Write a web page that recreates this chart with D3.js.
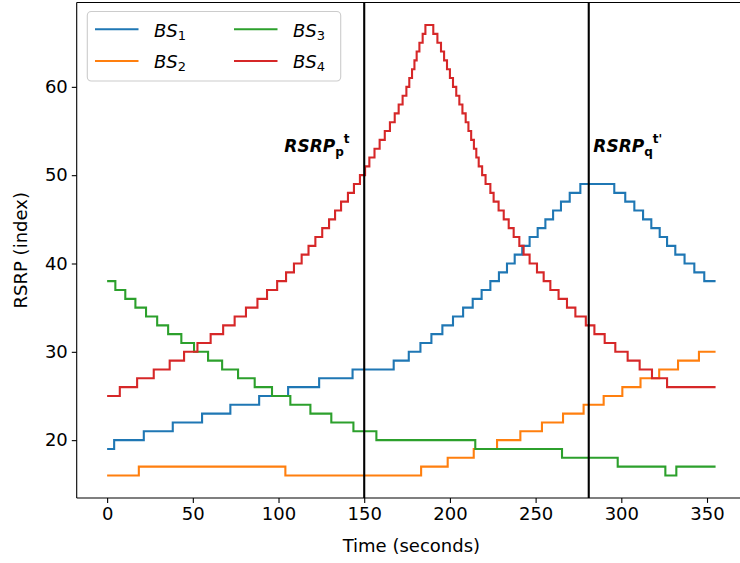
<!DOCTYPE html>
<html>
<head>
<title>rsrp_steps_d3</title>
<script src="https://d3js.org/d3.v7.min.js"></script>
<style>
  body { margin: 0; background: #fff; }
  text { font-family: "DejaVu Sans", sans-serif; }
</style>
</head>
<body>
<svg id="container" width="740" height="563"></svg>
<script>
// step change points: time (s) where each level begins
const tEnd = 355
const bs1Times = [0, 4.1, 21.4, 38.3, 55.4, 71.9, 88.7, 105.6, 123.7, 143.2, 167.2, 176, 182.8, 189.2, 195.6, 201.8, 207.7, 213.3, 218.5, 223.6, 228.6, 233.3, 237.8, 242.2, 246.5, 251.2, 255.7, 260.2, 264.8, 269.9, 276.1, 295.9, 302.3, 307.6, 312.7, 317.5, 322.4, 326.7, 331.5, 336.9, 342.6, 348.4]
const bs1Values = [19, 20, 21, 22, 23, 24, 25, 26, 27, 28, 29, 30, 31, 32, 33, 34, 35, 36, 37, 38, 39, 40, 41, 42, 43, 44, 45, 46, 47, 48, 49, 48, 47, 46, 45, 44, 43, 42, 41, 40, 39, 38]

const bs2Times = [0, 18.5, 104, 183.2, 198.7, 213.9, 227.5, 241.1, 253.7, 266, 278, 289.7, 300.6, 311.2, 322.1, 333.1, 345.3]
const bs2Values = [16, 17, 16, 17, 18, 19, 20, 21, 22, 23, 24, 25, 26, 27, 28, 29, 30]

const bs3Times = [0, 4.8, 10.6, 16.5, 22.7, 29.2, 35.6, 43.3, 50.7, 58.9, 67.1, 76.4, 86.1, 96.2, 106.9, 118.6, 130.8, 143.7, 157.1, 214.8, 265.4, 297.9, 325.7, 332.1]
const bs3Values = [38, 37, 36, 35, 34, 33, 32, 31, 30, 29, 28, 27, 26, 25, 24, 23, 22, 21, 20, 19, 18, 17, 16, 17]

const bs4Times = [0, 7.4, 17.5, 27.2, 36.5, 44.9, 52.7, 60.4, 67.7, 74.4, 81, 87.7, 93.3, 99.2, 104.4, 109, 113.5, 117.5, 121.5, 125.5, 129.5, 133, 136.5, 140.5, 144, 147.5, 150.5, 153, 156, 159, 162, 165, 167.8, 170.1, 172.4, 174.6, 176.3, 177.9, 179.3, 180.6, 182.2, 184.1, 185.7,
  190.3, 192.7, 194.8, 196.6, 198.3, 200, 201.8, 203.7, 205.5, 207.3, 209.2, 210.8, 212.4, 214, 215.4, 216.8, 218.8, 220.8, 223.6, 225.5, 228.4, 231.4, 234.3, 237.2, 240.5, 243, 246.5, 250.8, 254.7, 258.6, 263.4, 268.3, 273.2, 279.3, 284.3, 290.3, 296.5, 303.7, 310.7, 317.9, 326.7]
const bs4Values = [25, 26, 27, 28, 29, 30, 31, 32, 33, 34, 35, 36, 37, 38, 39, 40, 41, 42, 43, 44, 45, 46, 47, 48, 49, 50, 51, 52, 53, 54, 55, 56, 57, 58, 59, 60, 61, 62, 63, 64, 65, 66, 67,
  66, 65, 64, 63, 62, 61, 60, 59, 58, 57, 56, 55, 54, 53, 52, 51, 50, 49, 48, 47, 46, 45, 44, 43, 42, 41, 40, 39, 38, 37, 36, 35, 34, 33, 32, 31, 30, 29, 28, 27, 26]

const seriesNames = ["1", "2", "3", "4"]
const colors = ["#1f77b4", "#ff7f0e", "#2ca02c", "#d62728"]
const xTicks = [0, 50, 100, 150, 200, 250, 300, 350]
const yTicks = [20, 30, 40, 50, 60]
const markerTimes = [150, 281]

let svg = d3.select('#container')
let pLeft = 76.7, pRight = 746, pTop = 2.5, pBottom = 498

let x = d3.scaleLinear().domain([-17.75, 372.75]).range([pLeft, pRight])
let y = d3.scaleLinear().domain([13.45, 69.55]).range([pBottom, pTop])

svg.append("rect").attr("width", 740).attr("height", 563).attr("fill", "white")

svg.append("clipPath").attr("id", "clip")
  .append("rect").attr("x", pLeft).attr("y", pTop)
  .attr("width", pRight - pLeft).attr("height", pBottom - pTop)

let plot = svg.append("g").attr("clip-path", "url(#clip)")

let series = [
  [bs1Times, bs1Values], [bs2Times, bs2Values],
  [bs3Times, bs3Values], [bs4Times, bs4Values]
]

let line = d3.line()
  .x(d => x(d[0]))
  .y(d => y(d[1]))
  .curve(d3.curveStepAfter)

series.forEach((s, i) => {
  let pts = s[0].map((t, j) => [t, s[1][j]])
  pts.push([tEnd, s[1][s[1].length - 1]])
  plot.append("path")
    .attr("d", line(pts))
    .attr("fill", "none")
    .attr("stroke", colors[i])
    .attr("stroke-width", 2.1)
    .attr("stroke-linejoin", "miter")
})

// vertical markers
plot.selectAll("line.marker").data(markerTimes)
  .enter().append("line")
  .attr("x1", d => x(d)).attr("x2", d => x(d))
  .attr("y1", pTop).attr("y2", pBottom)
  .attr("stroke", "black")
  .attr("stroke-width", 2.1)

// axes
let xAxis = d3.axisBottom(x).tickValues(xTicks).tickSize(4.9).tickPadding(4)
let yAxis = d3.axisLeft(y).tickValues(yTicks).tickSize(4.9).tickPadding(4)

let gx = svg.append("g").attr("transform", `translate(0,${pBottom})`).call(xAxis)
let gy = svg.append("g").attr("transform", `translate(${pLeft},0)`).call(yAxis)
for (let g of [gx, gy]) {
  g.select(".domain").remove()
  g.selectAll(".tick line").attr("stroke", "black").attr("stroke-width", 1.1)
  g.selectAll(".tick text").attr("font-size", 18).attr("fill", "black")
    .attr("font-family", "DejaVu Sans")
}

// spines
svg.append("line").attr("x1", pLeft).attr("x2", pLeft).attr("y1", pTop).attr("y2", pBottom)
  .attr("stroke", "black").attr("stroke-width", 1.1)
svg.append("line").attr("x1", pLeft).attr("x2", pRight).attr("y1", pBottom).attr("y2", pBottom)
  .attr("stroke", "black").attr("stroke-width", 1.1)
svg.append("line").attr("x1", pLeft).attr("x2", pRight).attr("y1", pTop).attr("y2", pTop)
  .attr("stroke", "black").attr("stroke-width", 1.1)

// axis labels
svg.append("text").attr("x", (pLeft + pRight) / 2).attr("y", 552)
  .attr("text-anchor", "middle").attr("font-size", 18).text("Time (seconds)")
svg.append("text")
  .attr("transform", `translate(27,${(pTop + pBottom) / 2}) rotate(-90)`)
  .attr("text-anchor", "middle").attr("font-size", 18).text("RSRP (index)")

// annotations
function annotate(xp, yp, sub, sup) {
  let t = svg.append("text").attr("x", xp).attr("y", yp)
    .attr("font-size", 17).attr("font-weight", "bold")
  t.append("tspan").attr("font-style", "italic").text("RSRP")
  t.append("tspan").attr("font-size", 12).attr("dy", 4).text(sub)
  t.append("tspan").attr("font-size", 12).attr("dy", -13).text(sup)
}
annotate(284.3, 151.7, "p", "t")
annotate(593.3, 151.7, "q", "t'")

// legend
let legend = svg.append("g")
legend.append("rect").attr("x", 87.3).attr("y", 11.5)
  .attr("width", 253.4).attr("height", 69.5).attr("rx", 4)
  .attr("fill", "white").attr("fill-opacity", 0.8)
  .attr("stroke", "#cccccc").attr("stroke-width", 1.1)

let legendPos = [[95, 29.3], [95, 61], [234, 29.3], [234, 61]]
seriesNames.forEach((n, i) => {
  let [lx, ly] = legendPos[i]
  legend.append("line").attr("x1", lx).attr("x2", lx + 43.5)
    .attr("y1", ly).attr("y2", ly)
    .attr("stroke", colors[i]).attr("stroke-width", 2.1)
  let t = legend.append("text").attr("x", lx + 59).attr("y", ly + 7.4)
    .attr("font-size", 18)
  t.append("tspan").attr("font-style", "italic").text("BS")
  t.append("tspan").attr("font-size", 13).attr("dy", 3).text(n)
})
</script>
</body>
</html>
